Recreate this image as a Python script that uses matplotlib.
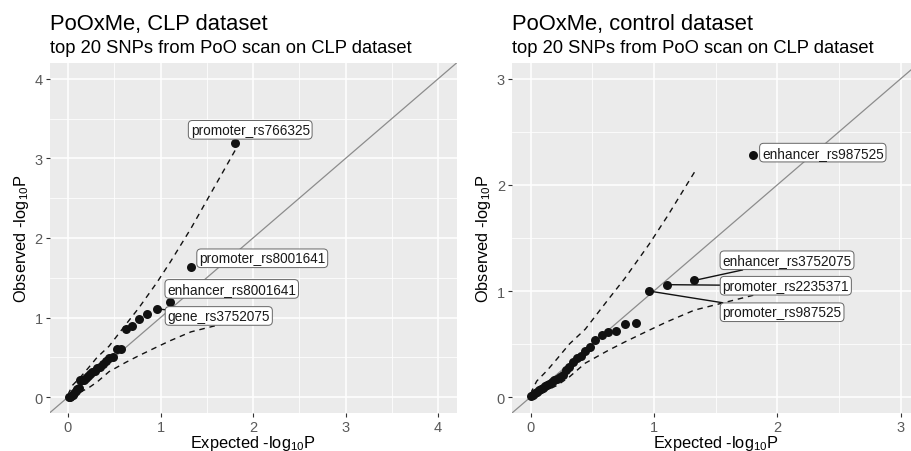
import matplotlib.pyplot as plt

plt.rcParams['font.family'] = ['Liberation Sans', 'DejaVu Sans']
plt.rcParams['mathtext.fontset'] = 'custom'
plt.rcParams['mathtext.rm'] = 'Liberation Sans'

# expected -log10 p for the 32 SNP/feature tests (same for both datasets)
expected = [1.806, 1.329, 1.107, 0.961, 0.852, 0.765, 0.692, 0.630, 0.576, 0.527,
            0.484, 0.444, 0.408, 0.375, 0.344, 0.315, 0.288, 0.262, 0.238, 0.215,
            0.193, 0.173, 0.153, 0.134, 0.116, 0.099, 0.082, 0.066, 0.050, 0.035,
            0.021, 0.007]

# observed -log10 p, sorted
obs_clp = [3.19, 1.63, 1.20, 1.11, 1.04, 0.98, 0.90, 0.86, 0.61, 0.60,
           0.50, 0.49, 0.46, 0.42, 0.38, 0.36, 0.33, 0.31, 0.29, 0.26,
           0.24, 0.22, 0.22, 0.21, 0.12, 0.10, 0.08, 0.05, 0.03, 0.01,
           0.005, 0.0]
obs_ctrl = [2.28, 1.10, 1.06, 1.00, 0.70, 0.69, 0.62, 0.61, 0.59, 0.54,
            0.47, 0.43, 0.39, 0.37, 0.33, 0.28, 0.26, 0.21, 0.19, 0.17,
            0.16, 0.14, 0.125, 0.11, 0.10, 0.09, 0.08, 0.07, 0.05, 0.04,
            0.02, 0.01]

# 95% confidence band around the null
band_x = [1.806, 1.329, 1.107, 0.961, 0.765, 0.630, 0.444, 0.315, 0.215, 0.134, 0.050, 0.007]
band_upper = [3.10, 2.12, 1.70, 1.44, 1.12, 0.92, 0.64, 0.50, 0.36, 0.25, 0.15, 0.05]
band_lower = [0.96, 0.82, 0.71, 0.63, 0.52, 0.44, 0.32, 0.19, 0.11, 0.065, 0.024, 0.0003]

labels_clp = ['promoter_rs766325', 'promoter_rs8001641', 'enhancer_rs8001641', 'gene_rs3752075']
labels_ctrl = ['enhancer_rs987525', 'enhancer_rs3752075', 'promoter_rs2235371', 'promoter_rs987525']

# where the repelled labels ended up (data coords) and whether a segment is drawn
label_pos_clp = [(1.97, 3.36, False), (2.10, 1.745, False), (1.77, 1.36, False), (1.63, 1.02, True)]
label_pos_ctrl = [(2.37, 2.305, False), (2.08, 1.29, True), (2.07, 1.05, True), (2.04, 0.80, True)]

W, H = 911, 452
fig = plt.figure(figsize=(W / 100, H / 100), dpi=100)


def qq_panel(rect, obs, labels, label_pos, lim, title, subtitle):
    ax = fig.add_axes(rect)
    ax.set_facecolor('#EBEBEB')
    for s in ax.spines.values():
        s.set_visible(False)
    ax.set_xlim(-0.05 * lim, 1.05 * lim)
    ax.set_ylim(-0.05 * lim, 1.05 * lim)
    ticks = list(range(lim + 1))
    ax.set_xticks(ticks)
    ax.set_yticks(ticks)
    ax.set_xticks([t + 0.5 for t in ticks[:-1]], minor=True)
    ax.set_yticks([t + 0.5 for t in ticks[:-1]], minor=True)
    ax.grid(which='major', color='white', lw=1.1)
    ax.grid(which='minor', color='white', lw=0.55)
    ax.set_axisbelow(True)
    ax.tick_params(which='minor', length=0)
    ax.tick_params(which='major', length=3, width=0.8, color='#333333',
                   labelcolor='#5a5a5a', labelsize=10.5, pad=2)

    ax.axline((0, 0), slope=1, color='#8c8c8c', lw=0.9, zorder=2)

    # points of the band above the y range are dropped, as ggplot does
    ux = [x for x, u in zip(band_x, band_upper) if u <= lim]
    uy = [u for u in band_upper if u <= lim]
    ax.plot(ux, uy, color='#111111', lw=1.0, ls=(0, (4, 3.5)), zorder=3)
    ax.plot(band_x, band_lower, color='#111111', lw=1.0, ls=(0, (4, 3.5)), zorder=3)

    ax.scatter(expected, obs, s=42, color='#111111', zorder=4, linewidths=0)

    for i, (txt, (lx, ly, seg)) in enumerate(zip(labels, label_pos)):
        arrow = dict(arrowstyle='-', color='#111111', lw=1.0, shrinkA=0, shrinkB=0) if seg else None
        ax.annotate(txt, xy=(expected[i], obs[i]), xytext=(lx, ly), textcoords='data',
                    ha='center', va='center', fontsize=9.8, color='#1a1a1a', zorder=6,
                    bbox=dict(boxstyle='round,pad=0.17,rounding_size=0.3', fc='white',
                              ec='#666666', lw=0.7),
                    arrowprops=arrow)

    ax.text(0.5, -0.097, r'Expected -log$_{\mathrm{10}}$P', transform=ax.transAxes,
            ha='center', va='baseline', fontsize=11.8)
    ax.text(-0.07, 0.5, r'Observed -log$_{\mathrm{10}}$P', transform=ax.transAxes,
            ha='center', va='center', rotation=90, fontsize=11.8)

    x0 = rect[0]
    fig.text(x0, 1 - 30 / H, title, fontsize=15.8, va='baseline')
    fig.text(x0, 1 - 53 / H, subtitle, fontsize=13.2, va='baseline')
    return ax


qq_panel([49.5 / W, 1 - 414 / H, 407 / W, 350 / H], obs_clp, labels_clp, label_pos_clp, 4,
         'PoOxMe, CLP dataset', 'top 20 SNPs from PoO scan on CLP dataset')
qq_panel([512 / W, 1 - 414 / H, 407 / W, 350 / H], obs_ctrl, labels_ctrl, label_pos_ctrl, 3,
         'PoOxMe, control dataset', 'top 20 SNPs from PoO scan on CLP dataset')

fig.savefig('out.png', dpi=100)
